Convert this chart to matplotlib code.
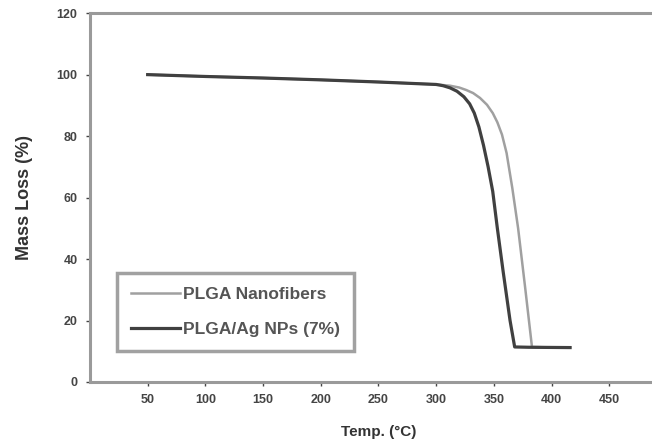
import matplotlib
matplotlib.use("Agg")
import matplotlib.pyplot as plt

plt.rcParams['font.family'] = ['Liberation Sans', 'DejaVu Sans']
plt.rcParams['font.weight'] = 'bold'

# PLGA nanofibers (light grey)
temp_plga = [50, 100, 150, 200, 250, 300, 312, 320, 326, 332, 338, 344, 349, 353, 357, 361, 366, 371, 377, 383, 395, 416]
mass_plga = [100, 99.4, 98.9, 98.3, 97.6, 96.8, 96.4, 95.8, 95.0, 94.0, 92.4, 90.2, 87.5, 84.5, 80.5, 74.5, 63, 50, 31, 11.4, 11.3, 11.2]

# PLGA/Ag NPs (7%) (dark)
temp_ag = [50, 100, 150, 200, 250, 300, 306, 312, 318, 324, 329, 333, 337, 341, 345, 349, 353, 358, 364, 368, 380, 416]
mass_ag = [100, 99.4, 98.9, 98.3, 97.6, 96.8, 96.4, 95.7, 94.6, 92.8, 90.5, 87.5, 83, 77, 70, 62, 50, 36, 20, 11.4, 11.3, 11.2]

x_ticks = [50, 100, 150, 200, 250, 300, 350, 400, 450]
y_ticks = [0, 20, 40, 60, 80, 100, 120]

fig = plt.figure(figsize=(6.52, 4.46), dpi=100)
ax = fig.add_axes([0.138, 0.1435, 0.885, 0.827])

ax.plot(temp_plga, mass_plga, color='#a0a0a0', lw=1.8, label='PLGA Nanofibers')
ax.plot(temp_ag, mass_ag, color='#404040', lw=2.3, label='PLGA/Ag NPs (7%)')

ax.set_xlim(0, 500)
ax.set_ylim(0, 120)
ax.set_xticks(x_ticks)
ax.set_yticks(y_ticks)
ax.tick_params(labelsize=9, colors='#444444', length=3, width=1, pad=6)
for lab in ax.get_xticklabels() + ax.get_yticklabels():
    lab.set_fontweight('bold')

for s in ['left', 'bottom', 'top', 'right']:
    ax.spines[s].set_color('#9a9a9a')
    ax.spines[s].set_linewidth(2.2)

ax.set_xlabel('Temp. (°C)', fontsize=11, fontweight='bold', color='#333333', labelpad=13)
ax.set_ylabel('Mass Loss (%)', fontsize=13, fontweight='bold', color='#333333', labelpad=17)

leg = ax.legend(loc='lower left', bbox_to_anchor=(0.047, 0.084), fontsize=12.5, frameon=True,
                fancybox=False, handlelength=2.8, borderpad=0.8, labelspacing=1.15,
                borderaxespad=0, handletextpad=0.2)
leg.get_frame().set_edgecolor('#8a8a8a')
leg.get_frame().set_linewidth(2.5)
for t in leg.get_texts():
    t.set_color('#555555')

fig.savefig('out.png', dpi=100)
